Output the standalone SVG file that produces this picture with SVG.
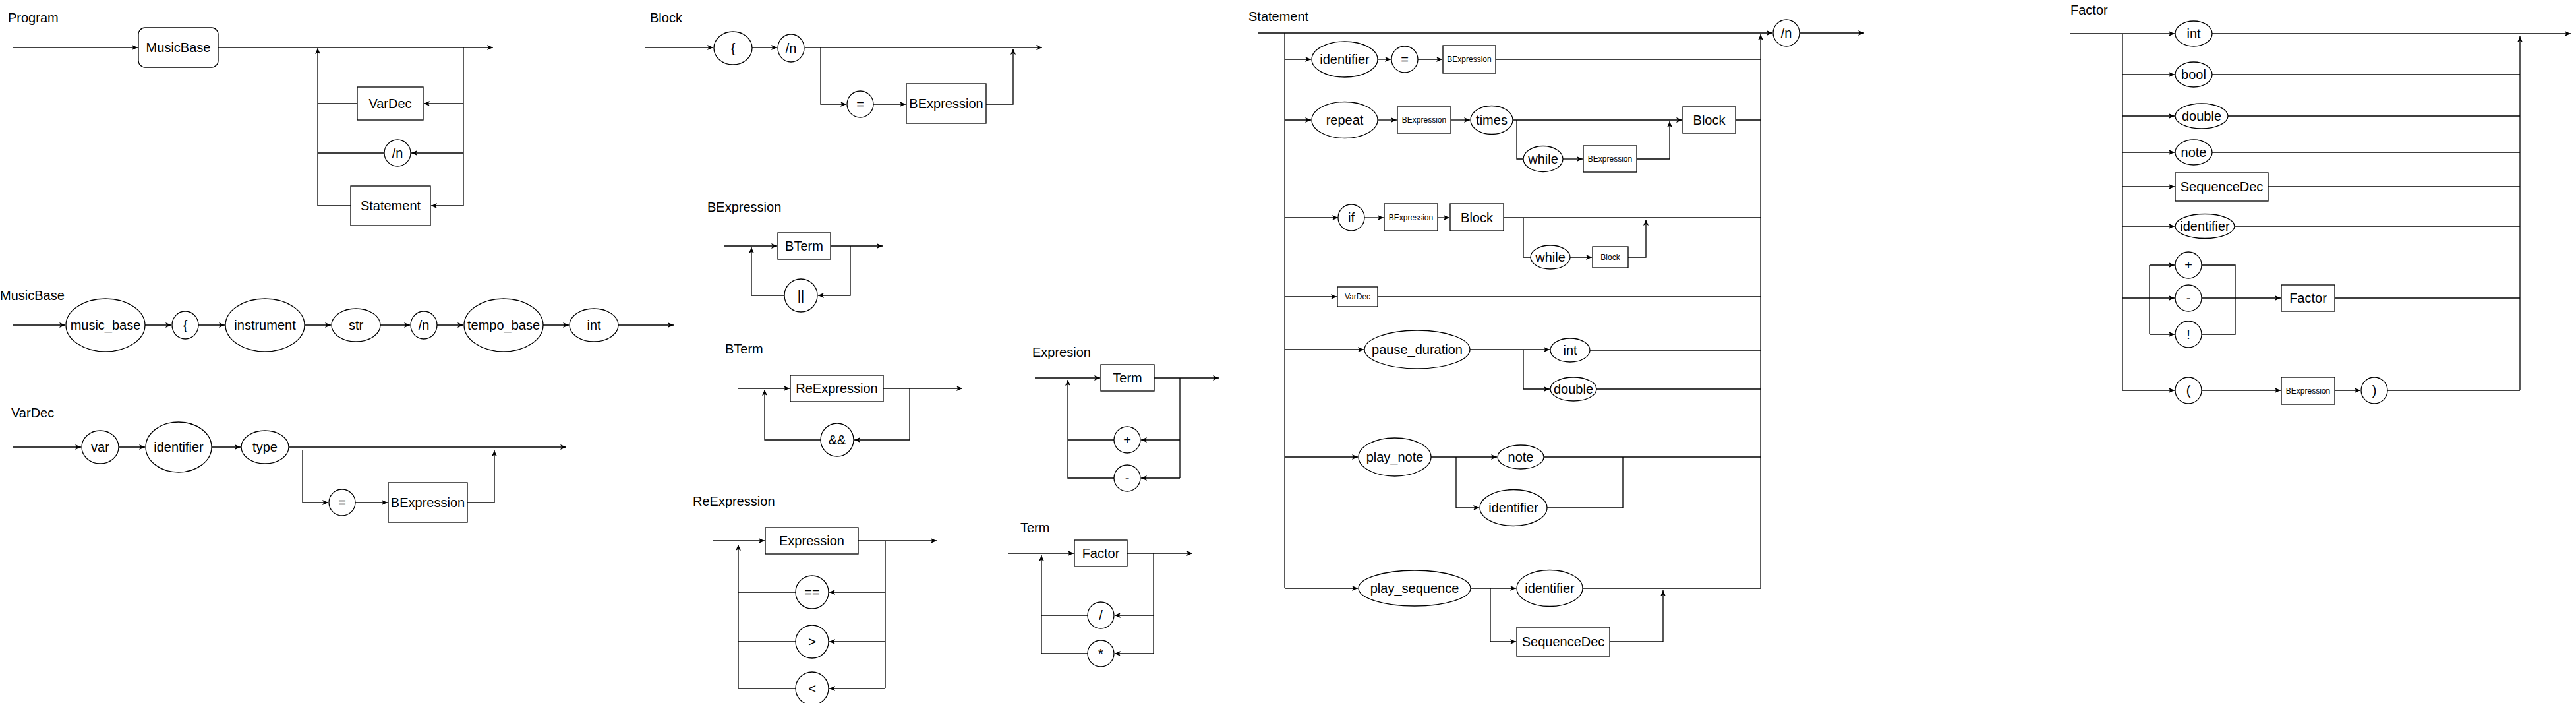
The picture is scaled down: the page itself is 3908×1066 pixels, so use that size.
<svg xmlns="http://www.w3.org/2000/svg" width="3908" height="1066" viewBox="0 0 3908 1066">
<style>
.n{fill:#fff;stroke:#000;stroke-width:1.3}
.c{fill:none;stroke:#000;stroke-width:1.3}
.a{marker-end:url(#ah)}
.t{font-family:"Liberation Sans",Arial,Helvetica,sans-serif;font-size:20px;text-anchor:middle;fill:#000}
.s{font-size:12px}
.l{font-family:"Liberation Sans",Arial,Helvetica,sans-serif;font-size:20px;fill:#000}
</style>
<defs>
<marker id="ah" markerUnits="userSpaceOnUse" markerWidth="12" markerHeight="10" refX="9" refY="4" orient="auto">
<path d="M0,0 L9,4 L0,8 L2.2,4 Z" fill="#000"/>
</marker>
</defs>
<rect width="3908" height="1066" fill="#fff"/>

<g id="titles">
<text class="l" x="12" y="34">Program</text>
<text class="l" x="0" y="455">MusicBase</text>
<text class="l" x="17" y="633">VarDec</text>
<text class="l" x="986" y="34">Block</text>
<text class="l" x="1073" y="321">BExpression</text>
<text class="l" x="1100" y="536">BTerm</text>
<text class="l" x="1051" y="767">ReExpression</text>
<text class="l" x="1566" y="541">Expresion</text>
<text class="l" x="1548" y="807">Term</text>
<text class="l" x="1894" y="32">Statement</text>
<text class="l" x="3141" y="22">Factor</text>
</g>

<g id="connectors">
<!-- Program -->
<path class="c a" d="M20,72 H209"/>
<path class="c a" d="M331,72 H748"/>
<path class="c" d="M703,72 V312"/>
<path class="c a" d="M703,157 H643"/>
<path class="c a" d="M703,232 H624"/>
<path class="c a" d="M703,312 H654"/>
<path class="c" d="M542,157 H482"/>
<path class="c" d="M583,232 H482"/>
<path class="c" d="M532,312 H482"/>
<path class="c a" d="M482,312 V73"/>
<!-- MusicBase -->
<path class="c a" d="M20,493 H99"/>
<path class="c a" d="M220,493 H260"/>
<path class="c a" d="M301,493 H341"/>
<path class="c a" d="M462,493 H502"/>
<path class="c a" d="M577,493 H622"/>
<path class="c a" d="M663,493 H703"/>
<path class="c a" d="M824,493 H863"/>
<path class="c a" d="M938,493 H1022"/>
<!-- VarDec -->
<path class="c a" d="M20,678 H123"/>
<path class="c a" d="M180,678 H220"/>
<path class="c a" d="M321,678 H365"/>
<path class="c a" d="M438,678 H859"/>
<path class="c a" d="M459,682 V762 H498"/>
<path class="c a" d="M539,762 H588"/>
<path class="c a" d="M709,762 H750 V683"/>
<!-- Block -->
<path class="c a" d="M979,72 H1082"/>
<path class="c a" d="M1141,72 H1179"/>
<path class="c a" d="M1221,72 H1581"/>
<path class="c a" d="M1245,72 V158 H1284"/>
<path class="c a" d="M1325,158 H1374"/>
<path class="c a" d="M1496,158 H1537 V74"/>
<!-- BExpression -->
<path class="c a" d="M1099,373 H1179"/>
<path class="c a" d="M1260,373 H1339"/>
<path class="c a" d="M1290,373 V448 H1241"/>
<path class="c a" d="M1190,448 H1140 V375"/>
<!-- BTerm -->
<path class="c a" d="M1119,589 H1198"/>
<path class="c a" d="M1340,589 H1460"/>
<path class="c a" d="M1380,589 V667 H1296"/>
<path class="c a" d="M1245,667 H1160 V591"/>
<!-- ReExpression -->
<path class="c a" d="M1082,820 H1160"/>
<path class="c a" d="M1302,820 H1421"/>
<path class="c" d="M1343,820 V1044"/>
<path class="c a" d="M1343,898 H1258"/>
<path class="c a" d="M1343,973 H1258"/>
<path class="c a" d="M1343,1044 H1258"/>
<path class="c" d="M1207,898 H1120"/>
<path class="c" d="M1207,973 H1120"/>
<path class="c a" d="M1207,1044 H1120 V826"/>
<!-- Expresion -->
<path class="c a" d="M1570,573 H1669"/>
<path class="c a" d="M1751,573 H1849"/>
<path class="c" d="M1790,573 V725"/>
<path class="c a" d="M1790,667 H1731"/>
<path class="c a" d="M1790,725 H1731"/>
<path class="c" d="M1690,667 H1620"/>
<path class="c a" d="M1690,725 H1620 V576"/>
<!-- Term -->
<path class="c a" d="M1529,839 H1629"/>
<path class="c a" d="M1710,839 H1809"/>
<path class="c" d="M1750,839 V991"/>
<path class="c a" d="M1750,933 H1691"/>
<path class="c a" d="M1750,991 H1691"/>
<path class="c" d="M1650,933 H1580"/>
<path class="c a" d="M1650,991 H1580 V842"/>
<!-- Statement -->
<path class="c a" d="M1909,50 H2689"/>
<path class="c a" d="M2730,50 H2828"/>
<path class="c" d="M1949,50 V892"/>
<path class="c a" d="M2671,892 V52"/>
<path class="c a" d="M1949,90 H1989"/>
<path class="c a" d="M2090,90 H2110"/>
<path class="c a" d="M2151,90 H2188"/>
<path class="c" d="M2269,90 H2671"/>
<path class="c a" d="M1949,182 H1989"/>
<path class="c a" d="M2090,182 H2119"/>
<path class="c a" d="M2201,182 H2230"/>
<path class="c a" d="M2295,182 H2552"/>
<path class="c" d="M2633,182 H2671"/>
<path class="c" d="M2301,182 V241 H2311"/>
<path class="c a" d="M2371,241 H2401"/>
<path class="c a" d="M2483,241 H2533 V184"/>
<path class="c a" d="M1949,330 H2030"/>
<path class="c a" d="M2070,330 H2099"/>
<path class="c a" d="M2181,330 H2199"/>
<path class="c" d="M2281,330 H2671"/>
<path class="c" d="M2311,330 V390 H2322"/>
<path class="c a" d="M2382,390 H2415"/>
<path class="c a" d="M2470,390 H2497 V333"/>
<path class="c a" d="M1949,450 H2028"/>
<path class="c" d="M2090,450 H2671"/>
<path class="c a" d="M1949,530 H2069"/>
<path class="c a" d="M2230,530 H2351"/>
<path class="c" d="M2412,531 H2671"/>
<path class="c a" d="M2311,530 V590 H2351"/>
<path class="c" d="M2422,590 H2671"/>
<path class="c a" d="M1949,693 H2060"/>
<path class="c a" d="M2171,693 H2271"/>
<path class="c" d="M2342,693 H2671"/>
<path class="c a" d="M2209,693 V770 H2244"/>
<path class="c" d="M2347,770 H2462 V693"/>
<path class="c a" d="M1949,892 H2060"/>
<path class="c a" d="M2231,892 H2300"/>
<path class="c" d="M2401,892 H2671"/>
<path class="c a" d="M2261,892 V973 H2300"/>
<path class="c a" d="M2442,973 H2523 V895"/>
<!-- Factor -->
<path class="c a" d="M3140,51 H3299"/>
<path class="c a" d="M3356,51 H3900"/>
<path class="c" d="M3220,51 V592"/>
<path class="c a" d="M3823,592 V55"/>
<path class="c a" d="M3220,113 H3299"/>
<path class="c" d="M3356,113 H3823"/>
<path class="c a" d="M3220,176 H3299"/>
<path class="c" d="M3380,176 H3823"/>
<path class="c a" d="M3220,231 H3299"/>
<path class="c" d="M3356,231 H3823"/>
<path class="c a" d="M3220,283 H3299"/>
<path class="c" d="M3441,283 H3823"/>
<path class="c a" d="M3220,343 H3299"/>
<path class="c" d="M3390,343 H3823"/>
<path class="c a" d="M3220,452 H3299"/>
<path class="c" d="M3261,402 V507"/>
<path class="c a" d="M3261,402 H3299"/>
<path class="c a" d="M3261,507 H3299"/>
<path class="c" d="M3340,402 H3391 V507 H3340"/>
<path class="c a" d="M3340,452 H3460"/>
<path class="c" d="M3542,452 H3823"/>
<path class="c a" d="M3220,592 H3299"/>
<path class="c a" d="M3340,592 H3460"/>
<path class="c a" d="M3542,592 H3581"/>
<path class="c" d="M3622,592 H3823"/>
</g>

<!-- Program nodes -->
<g id="prog-musicbase"><rect class="n" x="210" y="42" width="121" height="60" rx="10"/><text class="t" x="270.5" y="79">MusicBase</text></g>
<g id="prog-vardec"><rect class="n" x="542" y="132" width="100" height="50"/><text class="t" x="592" y="164">VarDec</text></g>
<g id="prog-newline"><ellipse class="n" cx="603" cy="232" rx="20" ry="20"/><text class="t" x="603" y="239">/n</text></g>
<g id="prog-statement"><rect class="n" x="532" y="282" width="121" height="60"/><text class="t" x="592.5" y="319">Statement</text></g>

<!-- MusicBase nodes -->
<g id="mb-music_base"><ellipse class="n" cx="160" cy="493" rx="60" ry="40"/><text class="t" x="160" y="500">music_base</text></g>
<g id="mb-brace"><ellipse class="n" cx="281" cy="493" rx="20" ry="21"/><text class="t" x="281" y="500">{</text></g>
<g id="mb-instrument"><ellipse class="n" cx="402" cy="493" rx="60" ry="40"/><text class="t" x="402" y="500">instrument</text></g>
<g id="mb-str"><ellipse class="n" cx="540" cy="493" rx="37" ry="25"/><text class="t" x="540" y="500">str</text></g>
<g id="mb-newline"><ellipse class="n" cx="643" cy="493" rx="20" ry="21"/><text class="t" x="643" y="500">/n</text></g>
<g id="mb-tempo_base"><ellipse class="n" cx="764" cy="493" rx="60" ry="40"/><text class="t" x="764" y="500">tempo_base</text></g>
<g id="mb-int"><ellipse class="n" cx="901" cy="493" rx="37" ry="25"/><text class="t" x="901" y="500">int</text></g>

<!-- VarDec nodes -->
<g id="vd-var"><ellipse class="n" cx="152" cy="678" rx="28" ry="25"/><text class="t" x="152" y="685">var</text></g>
<g id="vd-identifier"><ellipse class="n" cx="271" cy="678" rx="50" ry="38"/><text class="t" x="271" y="685">identifier</text></g>
<g id="vd-type"><ellipse class="n" cx="402" cy="678" rx="36" ry="25"/><text class="t" x="402" y="685">type</text></g>
<g id="vd-eq"><ellipse class="n" cx="519" cy="762" rx="20" ry="20"/><text class="t" x="519" y="769">=</text></g>
<g id="vd-bexpression"><rect class="n" x="589" y="732" width="120" height="60"/><text class="t" x="649" y="769">BExpression</text></g>

<!-- Block nodes -->
<g id="bl-brace"><ellipse class="n" cx="1112" cy="73" rx="29" ry="25"/><text class="t" x="1112" y="80">{</text></g>
<g id="bl-newline"><ellipse class="n" cx="1200" cy="73" rx="20" ry="21"/><text class="t" x="1200" y="80">/n</text></g>
<g id="bl-eq"><ellipse class="n" cx="1305" cy="158" rx="20" ry="20"/><text class="t" x="1305" y="165">=</text></g>
<g id="bl-bexpression"><rect class="n" x="1375" y="127" width="121" height="60"/><text class="t" x="1435.5" y="164">BExpression</text></g>

<!-- BExpression nodes -->
<g id="be-bterm"><rect class="n" x="1180" y="353" width="80" height="40"/><text class="t" x="1220" y="380">BTerm</text></g>
<g id="be-or"><ellipse class="n" cx="1215" cy="448" rx="25" ry="25"/><text class="t" x="1215" y="455">||</text></g>

<!-- BTerm nodes -->
<g id="bt-reexpression"><rect class="n" x="1199" y="569" width="141" height="40"/><text class="t" x="1269.5" y="596">ReExpression</text></g>
<g id="bt-and"><ellipse class="n" cx="1270" cy="667" rx="25" ry="25"/><text class="t" x="1270" y="674">&amp;&amp;</text></g>

<!-- ReExpression nodes -->
<g id="re-expression"><rect class="n" x="1161" y="800" width="141" height="40"/><text class="t" x="1231.5" y="827">Expression</text></g>
<g id="re-eq"><ellipse class="n" cx="1232" cy="898" rx="25" ry="25"/><text class="t" x="1232" y="905">==</text></g>
<g id="re-gt"><ellipse class="n" cx="1232" cy="973" rx="25" ry="25"/><text class="t" x="1232" y="980">&gt;</text></g>
<g id="re-lt"><ellipse class="n" cx="1232" cy="1044" rx="25" ry="25"/><text class="t" x="1232" y="1051">&lt;</text></g>

<!-- Expresion nodes -->
<g id="ex-term"><rect class="n" x="1670" y="553" width="81" height="40"/><text class="t" x="1710.5" y="580">Term</text></g>
<g id="ex-plus"><ellipse class="n" cx="1710" cy="667" rx="20" ry="20"/><text class="t" x="1710" y="674">+</text></g>
<g id="ex-minus"><ellipse class="n" cx="1710" cy="725" rx="20" ry="20"/><text class="t" x="1710" y="732">-</text></g>

<!-- Term nodes -->
<g id="tm-factor"><rect class="n" x="1630" y="819" width="80" height="40"/><text class="t" x="1670" y="846">Factor</text></g>
<g id="tm-div"><ellipse class="n" cx="1670" cy="933" rx="20" ry="20"/><text class="t" x="1670" y="940">/</text></g>
<g id="tm-mul"><ellipse class="n" cx="1670" cy="991" rx="20" ry="20"/><text class="t" x="1670" y="998">*</text></g>

<!-- Statement nodes -->
<g id="st-newline"><ellipse class="n" cx="2710" cy="50" rx="20" ry="20"/><text class="t" x="2710" y="57">/n</text></g>
<g id="st-identifier"><ellipse class="n" cx="2040" cy="90" rx="50" ry="27"/><text class="t" x="2040" y="97">identifier</text></g>
<g id="st-eq"><ellipse class="n" cx="2131" cy="90" rx="20" ry="20"/><text class="t" x="2131" y="97">=</text></g>
<g id="st-bexp1"><rect class="n" x="2189" y="69" width="80" height="42"/><text class="t s" x="2229" y="94">BExpression</text></g>
<g id="st-repeat"><ellipse class="n" cx="2040" cy="182" rx="50" ry="27.5"/><text class="t" x="2040" y="189">repeat</text></g>
<g id="st-bexp2"><rect class="n" x="2120" y="162" width="81" height="40"/><text class="t s" x="2160.5" y="186">BExpression</text></g>
<g id="st-times"><ellipse class="n" cx="2263" cy="182" rx="32" ry="21.5"/><text class="t" x="2263" y="189">times</text></g>
<g id="st-block1"><rect class="n" x="2553" y="162" width="80" height="40"/><text class="t" x="2593" y="189">Block</text></g>
<g id="st-while1"><ellipse class="n" cx="2341" cy="241" rx="30" ry="19.5"/><text class="t" x="2341" y="248">while</text></g>
<g id="st-bexp3"><rect class="n" x="2402" y="221" width="81" height="40"/><text class="t s" x="2442.5" y="245">BExpression</text></g>
<g id="st-if"><ellipse class="n" cx="2050" cy="330" rx="20" ry="20"/><text class="t" x="2050" y="337">if</text></g>
<g id="st-bexp4"><rect class="n" x="2100" y="309" width="81" height="41"/><text class="t s" x="2140.5" y="334">BExpression</text></g>
<g id="st-block2"><rect class="n" x="2200" y="309" width="81" height="41"/><text class="t" x="2240.5" y="337">Block</text></g>
<g id="st-while2"><ellipse class="n" cx="2352" cy="390" rx="30" ry="18"/><text class="t" x="2352" y="397">while</text></g>
<g id="st-block3"><rect class="n" x="2416" y="374" width="54" height="32"/><text class="t s" x="2443" y="394">Block</text></g>
<g id="st-vardec"><rect class="n" x="2029" y="435" width="61" height="30"/><text class="t s" x="2059.5" y="454">VarDec</text></g>
<g id="st-pause"><ellipse class="n" cx="2150" cy="530" rx="80" ry="29"/><text class="t" x="2150" y="537">pause_duration</text></g>
<g id="st-int"><ellipse class="n" cx="2382" cy="531" rx="30" ry="18"/><text class="t" x="2382" y="538">int</text></g>
<g id="st-double"><ellipse class="n" cx="2387" cy="590" rx="35" ry="18"/><text class="t" x="2387" y="597">double</text></g>
<g id="st-playnote"><ellipse class="n" cx="2116" cy="693" rx="55" ry="29"/><text class="t" x="2116" y="700">play_note</text></g>
<g id="st-note"><ellipse class="n" cx="2307" cy="693" rx="35" ry="18"/><text class="t" x="2307" y="700">note</text></g>
<g id="st-identifier2"><ellipse class="n" cx="2296" cy="770" rx="51" ry="27.5"/><text class="t" x="2296" y="777">identifier</text></g>
<g id="st-playseq"><ellipse class="n" cx="2146" cy="892" rx="85" ry="27"/><text class="t" x="2146" y="899">play_sequence</text></g>
<g id="st-identifier3"><ellipse class="n" cx="2351" cy="892" rx="50" ry="27.5"/><text class="t" x="2351" y="899">identifier</text></g>
<g id="st-seqdec"><rect class="n" x="2301" y="951" width="141" height="44"/><text class="t" x="2371.5" y="980">SequenceDec</text></g>

<!-- Factor nodes -->
<g id="fa-int"><ellipse class="n" cx="3328" cy="51" rx="28" ry="19"/><text class="t" x="3328" y="58">int</text></g>
<g id="fa-bool"><ellipse class="n" cx="3328" cy="113" rx="28" ry="19"/><text class="t" x="3328" y="120">bool</text></g>
<g id="fa-double"><ellipse class="n" cx="3340" cy="176" rx="40" ry="19"/><text class="t" x="3340" y="183">double</text></g>
<g id="fa-note"><ellipse class="n" cx="3328" cy="231" rx="28" ry="19"/><text class="t" x="3328" y="238">note</text></g>
<g id="fa-seqdec"><rect class="n" x="3300" y="262" width="141" height="43"/><text class="t" x="3370.5" y="290">SequenceDec</text></g>
<g id="fa-identifier"><ellipse class="n" cx="3345" cy="343" rx="45" ry="18.5"/><text class="t" x="3345" y="350">identifier</text></g>
<g id="fa-plus"><ellipse class="n" cx="3320" cy="402" rx="20" ry="20"/><text class="t" x="3320" y="409">+</text></g>
<g id="fa-minus"><ellipse class="n" cx="3320" cy="452" rx="20" ry="20"/><text class="t" x="3320" y="459">-</text></g>
<g id="fa-not"><ellipse class="n" cx="3320" cy="507" rx="20" ry="20"/><text class="t" x="3320" y="514">!</text></g>
<g id="fa-factor"><rect class="n" x="3461" y="432" width="81" height="40"/><text class="t" x="3501.5" y="459">Factor</text></g>
<g id="fa-lparen"><ellipse class="n" cx="3320" cy="592" rx="20" ry="20"/><text class="t" x="3320" y="599">(</text></g>
<g id="fa-bexpression"><rect class="n" x="3461" y="572" width="81" height="41"/><text class="t s" x="3501.5" y="597">BExpression</text></g>
<g id="fa-rparen"><ellipse class="n" cx="3602" cy="592" rx="20" ry="20"/><text class="t" x="3602" y="599">)</text></g>
</svg>
